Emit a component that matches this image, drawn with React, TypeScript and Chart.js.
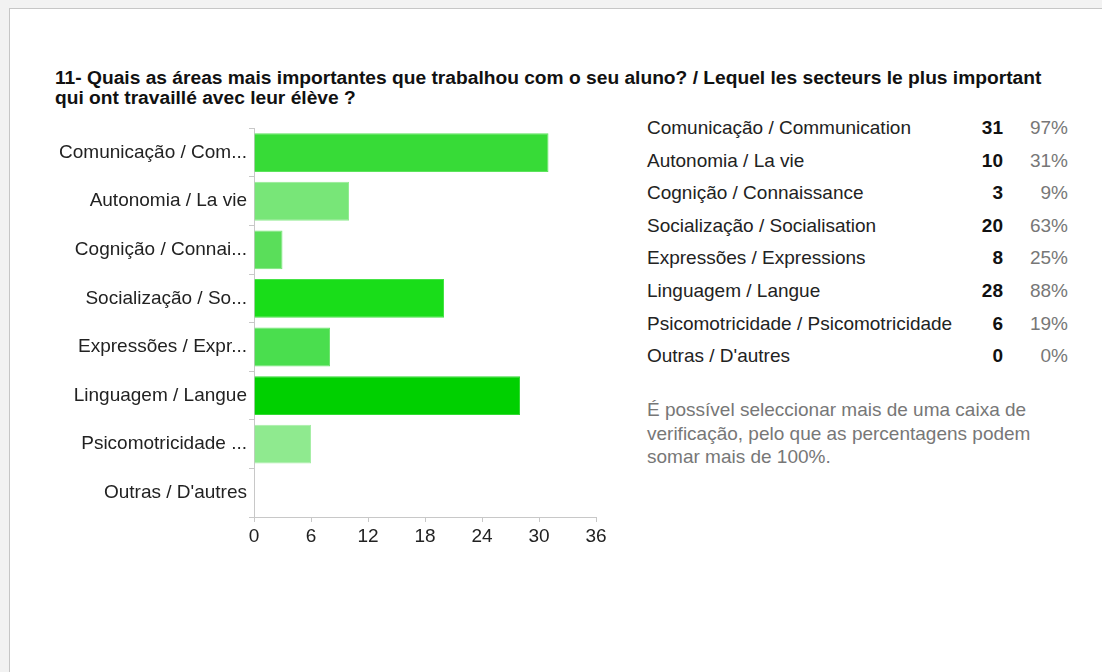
import React, { useEffect, useRef } from "react";
import { Chart, registerables } from "chart.js";

Chart.register(...registerables);

const titleLines = [
  "11- Quais as áreas mais importantes que trabalhou com o seu aluno? / Lequel les secteurs le plus important",
  "qui ont travaillé avec leur élève ?",
];

const categories = [
  "Comunicação / Communication",
  "Autonomia / La vie",
  "Cognição / Connaissance",
  "Socialização / Socialisation",
  "Expressões / Expressions",
  "Linguagem / Langue",
  "Psicomotricidade / Psicomotricidade",
  "Outras / D'autres",
];

const axisLabels = [
  "Comunicação / Com...",
  "Autonomia / La vie",
  "Cognição / Connai...",
  "Socialização / So...",
  "Expressões / Expr...",
  "Linguagem / Langue",
  "Psicomotricidade ...",
  "Outras / D'autres",
];

const counts = [31, 10, 3, 20, 8, 28, 6, 0];
const percents = ["97%", "31%", "9%", "63%", "25%", "88%", "19%", "0%"];

const barColors = [
  "#37db37",
  "#78e678",
  "#5ade5a",
  "#19dd19",
  "#4ade4e",
  "#00d000",
  "#8fea8f",
  "#8fea8f",
];
const barBorders = [
  "#5ce35c",
  "#92ec92",
  "#78e578",
  "#45e345",
  "#6ee56f",
  "#33d933",
  "#a6eea6",
  "#a6eea6",
];

const xTicks = [0, 6, 12, 18, 24, 30, 36];

const noteLines = [
  "É possível seleccionar mais de uma caixa de",
  "verificação, pelo que as percentagens podem",
  "somar mais de 100%.",
];

const FONT = "'Liberation Sans', Arial, Helvetica, sans-serif";

export default function App() {
  const canvasRef = useRef<HTMLCanvasElement | null>(null);

  useEffect(() => {
    const canvas = canvasRef.current;
    if (!canvas) return;
    const chart = new Chart(canvas, {
      type: "bar",
      data: {
        labels: axisLabels,
        datasets: [
          {
            data: counts,
            backgroundColor: barColors,
            borderColor: barBorders,
            borderWidth: 1,
            barPercentage: 0.8,
            categoryPercentage: 1.0,
          },
        ],
      },
      options: {
        indexAxis: "y",
        animation: false,
        responsive: false,
        maintainAspectRatio: false,
        layout: { padding: { top: 13, right: 24, bottom: 0, left: 0 } },
        plugins: {
          legend: { display: false },
          tooltip: { enabled: false },
          title: { display: false },
        },
        scales: {
          x: {
            min: 0,
            max: 36,
            afterBuildTicks: (scale: any) => {
              scale.ticks = xTicks.map((v) => ({ value: v }));
            },
            afterFit: (scale: any) => {
              scale.height = 43;
            },
            grid: {
              display: true,
              drawOnChartArea: false,
              drawTicks: true,
              tickLength: 5,
              color: "#c8c8c8",
            },
            border: { display: true, color: "#c8c8c8", width: 1 },
            ticks: {
              color: "#222222",
              padding: 3,
              font: { family: FONT, size: 19 },
            },
          },
          y: {
            afterFit: (scale: any) => {
              scale.width = 214;
            },
            grid: {
              display: true,
              drawOnChartArea: false,
              drawTicks: true,
              tickLength: 5,
              color: "#c8c8c8",
            },
            border: { display: true, color: "#c8c8c8", width: 1 },
            ticks: {
              color: "#222222",
              padding: 2,
              autoSkip: false,
              font: { family: FONT, size: 19 },
            },
          },
        },
      },
    });
    return () => chart.destroy();
  }, []);

  const rowTop = (i: number) => 128 + i * 32.6 - 11;

  return (
    <div
      style={{
        position: "fixed",
        left: 0,
        top: 0,
        width: 1102,
        height: 672,
        overflow: "hidden",
        background: "#f2f2f2",
        fontFamily: FONT,
      }}
    >
      <div
        style={{
          position: "absolute",
          left: 9,
          top: 8,
          width: 1200,
          height: 800,
          background: "#ffffff",
          borderLeft: "1px solid #c6c6c6",
          borderTop: "1px solid #c6c6c6",
        }}
      />
      {titleLines.map((t, i) => (
        <div
          key={"t" + i}
          style={{
            position: "absolute",
            left: 55,
            top: 68 + i * 20,
            lineHeight: "20px",
            fontSize: 19.2,
            fontWeight: "bold",
            color: "#111",
            whiteSpace: "nowrap",
          }}
        >
          {t}
        </div>
      ))}
      <canvas
        ref={canvasRef}
        width={580}
        height={445}
        style={{ position: "absolute", left: 40, top: 115, width: 580, height: 445 }}
      />
      {categories.map((c, i) => (
        <React.Fragment key={"r" + i}>
          <div
            style={{
              position: "absolute",
              left: 647,
              top: rowTop(i),
              lineHeight: "22px",
              fontSize: 19,
              color: "#222",
              whiteSpace: "nowrap",
            }}
          >
            {c}
          </div>
          <div
            style={{
              position: "absolute",
              left: 940,
              width: 63,
              top: rowTop(i),
              lineHeight: "22px",
              fontSize: 19,
              fontWeight: "bold",
              color: "#111",
              textAlign: "right",
            }}
          >
            {counts[i]}
          </div>
          <div
            style={{
              position: "absolute",
              left: 1008,
              width: 60,
              top: rowTop(i),
              lineHeight: "22px",
              fontSize: 19,
              color: "#777",
              textAlign: "right",
            }}
          >
            {percents[i]}
          </div>
        </React.Fragment>
      ))}
      {noteLines.map((t, i) => (
        <div
          key={"n" + i}
          style={{
            position: "absolute",
            left: 647,
            top: 410 - 11 + i * 23.5,
            lineHeight: "22px",
            fontSize: 19,
            color: "#777",
            whiteSpace: "nowrap",
          }}
        >
          {t}
        </div>
      ))}
    </div>
  );
}
